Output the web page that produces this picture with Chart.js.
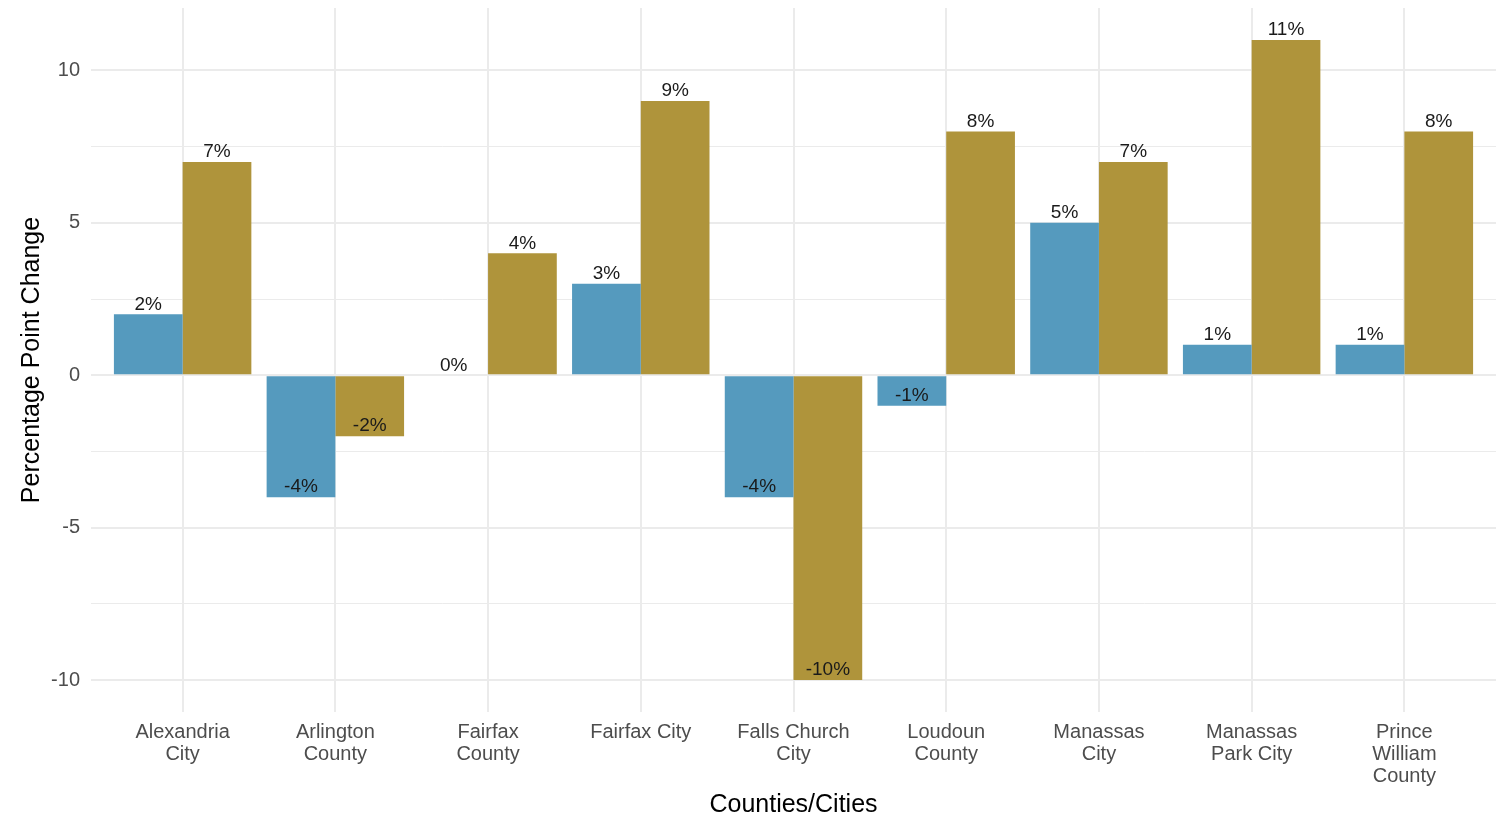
<!DOCTYPE html>
<html>
<head>
<meta charset="utf-8">
<script src="https://cdn.jsdelivr.net/npm/chart.js@4"></script>
<style>
  html, body { margin: 0; padding: 0; background: #ffffff; }
  #wrap { width: 1496px; height: 814px; position: relative; }
</style>
</head>
<body>
<div id="wrap"><canvas id="c"></canvas></div>
<script>
// ---- data ----
const categories = [
  "Alexandria City", "Arlington County", "Fairfax County", "Fairfax City",
  "Falls Church City", "Loudoun County", "Manassas City", "Manassas Park City",
  "Prince William County"
];
const categoryLabelLines = [
  ["Alexandria", "City"], ["Arlington", "County"], ["Fairfax", "County"], ["Fairfax City"],
  ["Falls Church", "City"], ["Loudoun", "County"], ["Manassas", "City"], ["Manassas", "Park City"],
  ["Prince", "William", "County"]
];
const seriesBlue = [2, -4, 0, 3, -4, -1, 5, 1, 1];
const seriesGold = [7, -2, 4, 9, -10, 8, 7, 11, 8];
const yMajorTicks = [-10, -5, 0, 5, 10];
const yMinorTicks = [-7.5, -2.5, 2.5, 7.5];

const FONT = "'Liberation Sans', Arial, Helvetica, sans-serif";

const toPoints = arr => arr.map((v, i) => ({ x: i + 1, y: v }));

const labelPlugin = {
  id: 'barLabels',
  afterDatasetsDraw(chart) {
    const ctx = chart.ctx;
    const yScale = chart.scales.y;
    ctx.save();
    ctx.font = `19px ${FONT}`;
    ctx.fillStyle = '#1a1a1a';
    ctx.textAlign = 'center';
    ctx.textBaseline = 'alphabetic';
    chart.data.datasets.forEach((ds, di) => {
      const meta = chart.getDatasetMeta(di);
      meta.data.forEach((el, i) => {
        const v = ds.data[i].y;
        const py = yScale.getPixelForValue(v);
        ctx.fillText(v + '%', el.x, py - 4.7);
      });
    });
    ctx.restore();
  }
};

new Chart(document.getElementById('c'), {
  type: 'bar',
  data: {
    datasets: [
      { label: 'Series A', data: toPoints(seriesBlue), backgroundColor: '#559abe', borderWidth: 0,
        categoryPercentage: 0.9, barPercentage: 1.0 },
      { label: 'Series B', data: toPoints(seriesGold), backgroundColor: '#af943b', borderWidth: 0,
        categoryPercentage: 0.9, barPercentage: 1.0 }
    ]
  },
  options: {
    responsive: true,
    maintainAspectRatio: false,
    devicePixelRatio: 1,
    animation: false,
    layout: { padding: { top: 8, right: 0, left: 0, bottom: 0 } },
    plugins: { legend: { display: false }, tooltip: { enabled: false } },
    scales: {
      x: {
        type: 'linear',
        min: 0.4,
        max: 9.6,
        offset: false,
        afterBuildTicks: s => { s.ticks = categories.map((c, i) => ({ value: i + 1 })); },
        afterFit: s => { s.height = 102; s.paddingLeft = 0; s.paddingRight = 0; },
        border: { display: false },
        grid: { color: '#ebebeb', lineWidth: 2, drawTicks: false, offset: false },
        ticks: {
          color: '#4d4d4d',
          font: { family: FONT, size: 20, lineHeight: 1.1 },
          padding: 9,
          maxRotation: 0,
          autoSkip: false,
          callback: v => categoryLabelLines[Math.round(v) - 1]
        },
        title: {
          display: true,
          text: 'Counties/Cities',
          color: '#000000',
          font: { family: FONT, size: 25, lineHeight: 1 },
          padding: { top: 0, bottom: -4 }
        }
      },
      y: {
        min: -11.05,
        max: 12.05,
        afterBuildTicks: s => {
          s.ticks = yMajorTicks.concat(yMinorTicks).sort((a, b) => a - b).map(v => ({ value: v }));
        },
        afterFit: s => { s.width = 91; s.paddingTop = 0; s.paddingBottom = 0; },
        border: { display: false },
        grid: {
          color: '#ebebeb',
          lineWidth: c => (yMajorTicks.includes(c.tick && c.tick.value) ? 2 : 1),
          drawTicks: false
        },
        ticks: {
          color: '#4d4d4d',
          font: { family: FONT, size: 20 },
          padding: 11,
          callback: v => (yMajorTicks.includes(v) ? String(v) : '')
        },
        title: {
          display: true,
          text: 'Percentage Point Change',
          color: '#000000',
          font: { family: FONT, size: 25, lineHeight: 1.2 },
          padding: { top: 17, bottom: 0 }
        }
      }
    }
  },
  plugins: [labelPlugin]
});
</script>
</body>
</html>
